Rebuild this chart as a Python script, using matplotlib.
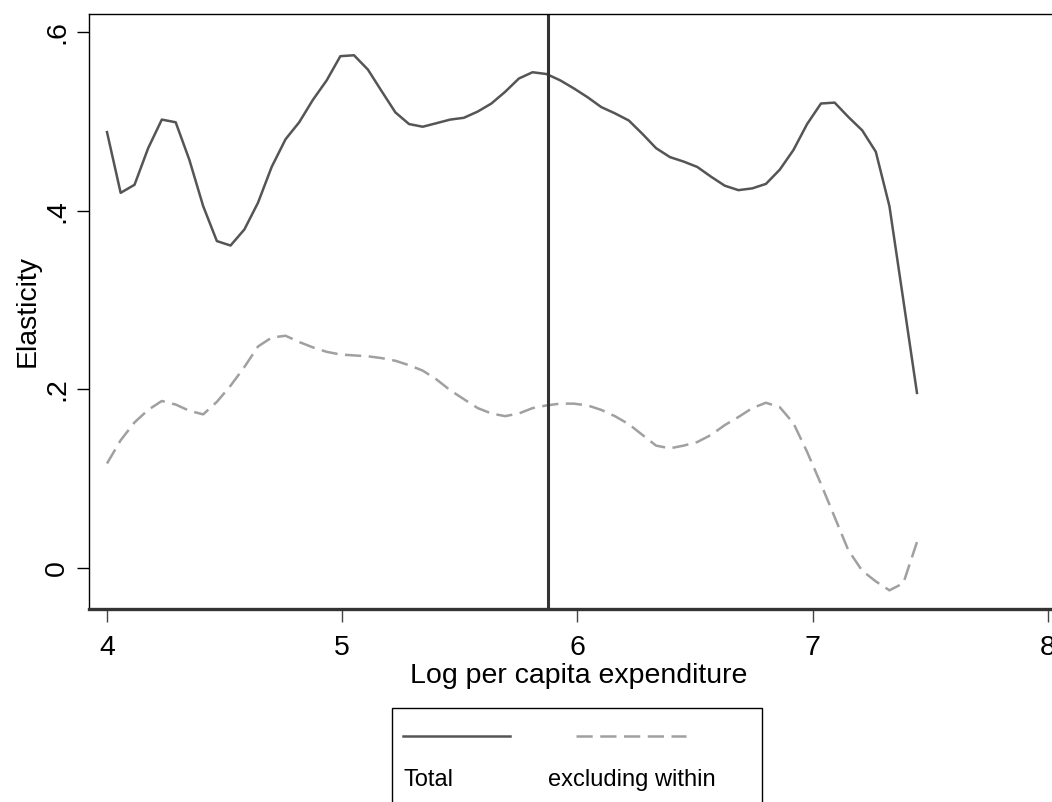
import matplotlib.pyplot as plt
from matplotlib.lines import Line2D
from matplotlib.patches import Rectangle

plt.rcParams['font.family'] = ['Liberation Sans', 'DejaVu Sans']

# grille de log dépense par tête
log_exp = [4.000, 4.058, 4.117, 4.175, 4.233, 4.292, 4.350, 4.409, 4.467, 4.525,
           4.584, 4.642, 4.700, 4.759, 4.817, 4.875, 4.934, 4.992, 5.050, 5.109,
           5.167, 5.226, 5.284, 5.342, 5.401, 5.459, 5.517, 5.576, 5.634, 5.692,
           5.751, 5.809, 5.868, 5.926, 5.984, 6.043, 6.101, 6.159, 6.218, 6.276,
           6.334, 6.393, 6.451, 6.509, 6.568, 6.626, 6.684, 6.743, 6.801, 6.860,
           6.918, 6.976, 7.035, 7.093, 7.151, 7.210, 7.268, 7.326, 7.385, 7.443]

# élasticité totale
total = [0.488, 0.420, 0.429, 0.470, 0.502, 0.499, 0.457, 0.405, 0.366, 0.361,
         0.379, 0.409, 0.449, 0.480, 0.499, 0.524, 0.546, 0.573, 0.574, 0.558,
         0.534, 0.510, 0.497, 0.494, 0.498, 0.502, 0.504, 0.511, 0.520, 0.533,
         0.548, 0.555, 0.553, 0.546, 0.537, 0.527, 0.516, 0.509, 0.501, 0.486,
         0.470, 0.460, 0.455, 0.449, 0.438, 0.428, 0.423, 0.425, 0.430, 0.446,
         0.468, 0.497, 0.520, 0.521, 0.505, 0.490, 0.466, 0.405, 0.300, 0.196]

# élasticité hors intra
excl_within = [0.117, 0.143, 0.163, 0.177, 0.187, 0.183, 0.176, 0.172, 0.186, 0.204,
               0.225, 0.248, 0.258, 0.260, 0.253, 0.247, 0.242, 0.239, 0.238, 0.237,
               0.235, 0.232, 0.227, 0.221, 0.211, 0.199, 0.189, 0.179, 0.173, 0.170,
               0.173, 0.179, 0.182, 0.184, 0.184, 0.182, 0.177, 0.170, 0.161, 0.149,
               0.137, 0.134, 0.137, 0.141, 0.149, 0.160, 0.169, 0.179, 0.185, 0.180,
               0.162, 0.130, 0.094, 0.057, 0.020, -0.003, -0.015, -0.025, -0.017, 0.029]

seuil = 5.875
xticks = [4, 5, 6, 7, 8]
yticks = [0, 0.2, 0.4, 0.6]
ytick_labels = ['0', '.2', '.4', '.6']

W, H = 1052, 802
fig = plt.figure(figsize=(W / 100, H / 100), dpi=100)
ax = fig.add_axes([89 / W, (H - 609) / H, (1060 - 89) / W, (609 - 14) / H])

ax.plot(log_exp, total, color='#555555', lw=1.8)
ax.plot(log_exp, excl_within, color='#a0a0a0', lw=1.8, dashes=(6.5, 3))
ax.axvline(seuil, color='#333333', lw=2.2)

ax.set_xlim(3.9235, 8.051)
ax.set_ylim(-0.0459, 0.6202)
ax.set_xticks(xticks)
ax.set_yticks(yticks)
ax.set_yticklabels(ytick_labels)

ax.spines['right'].set_visible(False)
ax.spines['left'].set_linewidth(1.0)
ax.spines['top'].set_linewidth(1.0)
ax.spines['bottom'].set_linewidth(2.4)
ax.spines['bottom'].set_color('#333333')

ax.tick_params(axis='x', length=9, width=1.0, color='#444444', pad=9.5, labelsize=20.5)
ax.tick_params(axis='y', length=8.6, width=1.0, color='black', pad=5, labelsize=20.5,
               labelrotation=90)
for lab in ax.get_yticklabels():
    lab.set_va('center')

ax.set_xlabel('Log per capita expenditure', fontsize=20.5)
ax.xaxis.set_label_coords((579 - 89) / 971, (609 - 676) / 595)
ax.xaxis.label.set_va('center')
ax.set_ylabel('Elasticity', fontsize=20.5)
ax.yaxis.set_label_coords((28 - 89) / 971, 0.5)
ax.yaxis.label.set_va('center')

# légende façon Stata, dessinée à la main
def fx(px):
    return px / W

def fy(py):
    return (H - py) / H

fig.add_artist(Rectangle((fx(392), fy(830)), fx(762) - fx(392), fy(708) - fy(830),
                         transform=fig.transFigure, fill=False, ec='black', lw=1.0))
fig.add_artist(Line2D([fx(403), fx(510)], [fy(736), fy(736)], transform=fig.transFigure,
                      color='#555555', lw=1.8))
fig.add_artist(Line2D([fx(576), fx(686)], [fy(736), fy(736)], transform=fig.transFigure,
                      color='#a0a0a0', lw=1.8, dashes=(6.5, 3)))
fig.text(fx(403), fy(780), 'Total', fontsize=17, va='center', ha='left')
fig.text(fx(548), fy(780), 'excluding within', fontsize=17, va='center', ha='left')

fig.savefig('out.png', dpi=100)
